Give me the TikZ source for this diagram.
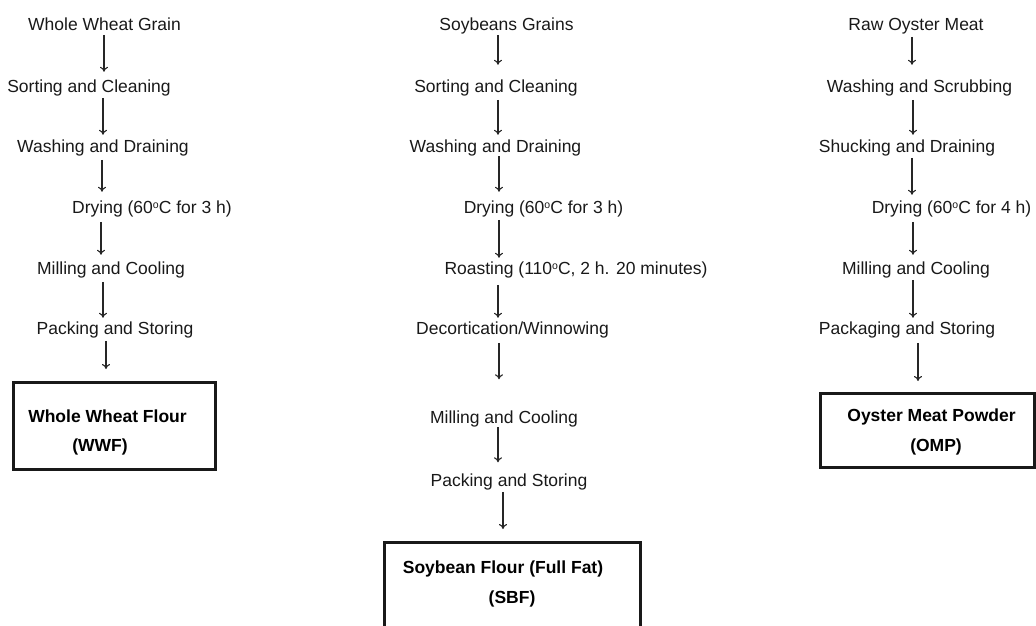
\documentclass[tikz,border=0pt]{standalone}
\usepackage{fontspec}
\setmainfont{Liberation Sans}
\usetikzlibrary{arrows.meta}
\newcommand\dg{\raisebox{0.55ex}{\fontsize{10.5}{10.5}\selectfont o}}
\begin{document}
\begin{tikzpicture}[x=1pt,y=-1pt,
  stepnode/.style={font=\fontsize{17.5}{21}\selectfont, text=black!90, inner sep=2pt, text height=14.5pt, text depth=1.7pt},
  prodtext/.style={font=\fontsize{17.5}{21}\selectfont\bfseries, text=black, inner sep=0pt},
  prodbox/.style={draw=black!90, line width=3pt, inner sep=0pt},
  arr/.style={draw=black!85, line width=1.1pt, -{To[length=5pt,width=8pt]}}]
\useasboundingbox (0,0) rectangle (1036,626);
\clip (0,0) rectangle (1036,626);
\newcommand\flowarr[5]{\draw[arr,shorten <=#4pt,shorten >=#5pt] (#1.south -| #3,0) -- (#2.north -| #3,0);}
% Column 1
\node[stepnode] (w1) at (104.5,24.6) {Whole Wheat Grain};
\node[stepnode] (w2) at (89,86.1) {Sorting and Cleaning};
\node[stepnode] (w3) at (103,146.1) {Washing and Draining};
\node[stepnode] (w4) at (152,207.1) {Drying (60\dg C for 3 h)};
\node[stepnode] (w5) at (111,268.1) {Milling and Cooling};
\node[stepnode] (w6) at (115,328.1) {Packing and Storing};
\node[prodbox, minimum width=202pt, minimum height=87pt] (wwf) at (114.5,426) {};
\node[prodtext] (wwft1) at (107.5,416.5) {Whole Wheat Flour};
\node[prodtext] (wwft2) at (100,447) {(WWF)};
\flowarr{w1}{w2}{104}{0}{4}
\flowarr{w2}{w3}{103}{1.5}{1}
\flowarr{w3}{w4}{102}{3.5}{5}
\flowarr{w4}{w5}{101}{4.5}{3}
\flowarr{w5}{w6}{103}{3.5}{0}
\flowarr{w6}{wwf}{106}{2.5}{12}
% Column 2
\node[stepnode] (s1) at (506.5,24.6) {Soybeans Grains};
\node[stepnode] (s2) at (496,86.1) {Sorting and Cleaning};
\node[stepnode] (s3) at (495.5,146.1) {Washing and Draining};
\node[stepnode] (s4) at (543.5,207.1) {Drying (60\dg C for 3 h)};
\node[stepnode] (s5) at (576,268.1) {Roasting (110\dg C, 2 h. 20 minutes)};
\node[stepnode] (s6) at (512.5,328.1) {Decortication/Winnowing};
\node[stepnode] (s7) at (504,417.1) {Milling and Cooling};
\node[stepnode] (s8) at (509,480.1) {Packing and Storing};
\node[prodbox, minimum width=256pt, minimum height=116pt] (sbf) at (512.5,600.5) {};
\node[prodtext] (sbft1) at (503,568.5) {Soybean Flour (Full Fat)};
\node[prodtext] (sbft2) at (512,599) {(SBF)};
\flowarr{s1}{s2}{498}{0}{11}
\flowarr{s2}{s3}{498}{3.5}{1}
\flowarr{s3}{s4}{499}{0}{5}
\flowarr{s4}{s5}{499}{2.5}{0}
\flowarr{s5}{s6}{498}{6.5}{0}
\flowarr{s6}{s7}{499}{4.5}{27.5}
\flowarr{s7}{s8}{498}{0}{7.5}
\flowarr{s8}{sbf}{503}{1.5}{12}
% Column 3
\node[stepnode] (o1) at (916,24.6) {Raw Oyster Meat};
\node[stepnode] (o2) at (919.5,86.1) {Washing and Scrubbing};
\node[stepnode] (o3) at (907,146.1) {Shucking and Draining};
\node[stepnode] (o4) at (951.5,207.1) {Drying (60\dg C for 4 h)};
\node[stepnode] (o5) at (916,268.1) {Milling and Cooling};
\node[stepnode] (o6) at (907,328.1) {Packaging and Storing};
\node[prodbox, minimum width=214pt, minimum height=74pt] (omp) at (927.5,430.5) {};
\node[prodtext] (ompt1) at (931.5,416.5) {Oyster Meat Powder};
\node[prodtext] (ompt2) at (936,447) {(OMP)};
\flowarr{o1}{o2}{912}{2}{11}
\flowarr{o2}{o3}{913}{3.5}{1}
\flowarr{o3}{o4}{912}{1.5}{2}
\flowarr{o4}{o5}{913}{4.5}{3}
\flowarr{o5}{o6}{913}{1.5}{0}
\flowarr{o6}{omp}{918}{4.5}{11}
\end{tikzpicture}
\end{document}
